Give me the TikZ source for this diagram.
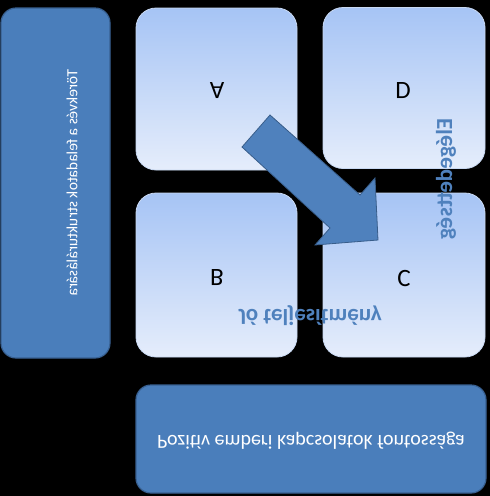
\documentclass[tikz,border=0pt]{standalone}
\usepackage{fontspec}
\setmainfont{Carlito}
\usepackage{graphicx}
\definecolor{boxfill}{RGB}{74,126,187}
\definecolor{boxedge}{RGB}{56,96,145}
\definecolor{gtop}{RGB}{166,196,245}
\definecolor{gbot}{RGB}{229,237,251}
\definecolor{lightedge}{RGB}{200,216,242}
\definecolor{arrowfill}{RGB}{79,129,189}
\definecolor{arrowedge}{RGB}{56,93,138}
\definecolor{labelblue}{RGB}{79,129,189}
\newcommand{\flipv}[1]{\scalebox{1}[-1]{#1}}
\tikzset{
  darkbox/.style={draw=boxedge, fill=boxfill, line width=1.2pt, inner sep=0pt, rounded corners=15pt},
  lightbox/.style={draw=lightedge, top color=gtop, bottom color=gbot, line width=0.8pt, inner sep=0pt, rounded corners=20pt},
  letter/.style={font=\fontsize{25}{30}\selectfont, text=black, inner sep=0pt},
  boxtext/.style={text=white, inner sep=0pt},
  axislabel/.style={text=labelblue, font=\bfseries\fontsize{23}{27}\selectfont, inner sep=0pt},
  bigarrow/.style={fill=arrowfill, draw=arrowedge, line width=0.8pt, line join=miter}
}
\begin{document}
\begin{tikzpicture}[x=1pt,y=-1pt]
\useasboundingbox (0,0) rectangle (490,496);
\fill[black] (0,0) rectangle (490,496);
% left tall box
\node[darkbox, minimum width=109pt, minimum height=350pt] (left) at (55.5,183) {};
% four quadrant boxes
\node[lightbox, minimum width=161pt, minimum height=162pt] (A) at (216.5,89) {};
\node[lightbox, minimum width=162pt, minimum height=161pt] (D) at (404,88) {};
\node[lightbox, minimum width=161pt, minimum height=164pt] (B) at (216.5,275) {};
\node[lightbox, minimum width=162pt, minimum height=164pt] (C) at (404,275) {};
% bottom box
\node[darkbox, minimum width=350pt, minimum height=108pt] (bottom) at (311,439) {};
% block arrow
\draw[bigarrow] (270,115) -- (360,195) -- (375,178) -- (378,240) -- (315,245) -- (330,228) -- (242,147) -- cycle;
% letters
\node[letter] (tA) at (217,91) {\flipv{A}};
\node[letter] (tD) at (403,91) {\flipv{D}};
\node[letter] (tB) at (217,278) {\flipv{B}};
\node[letter] (tC) at (404,279) {\flipv{C}};
% texts
\node[boxtext, rotate=-90, font=\fontsize{15.5}{19}\selectfont] (tleft) at (72,183) {\flipv{Törekvés a feladatok strukturálására}};
\node[boxtext, font=\fontsize{20}{24}\selectfont] (tbottom) at (311,441) {\flipv{Pozitív emberi kapcsolatok fontossága}};
\node[axislabel] (tjo) at (310,316) {\flipv{Jó teljesítmény}};
\node[axislabel, rotate=-90] (tel) at (446,179) {\flipv{Elégedettség}};
\end{tikzpicture}
\end{document}
